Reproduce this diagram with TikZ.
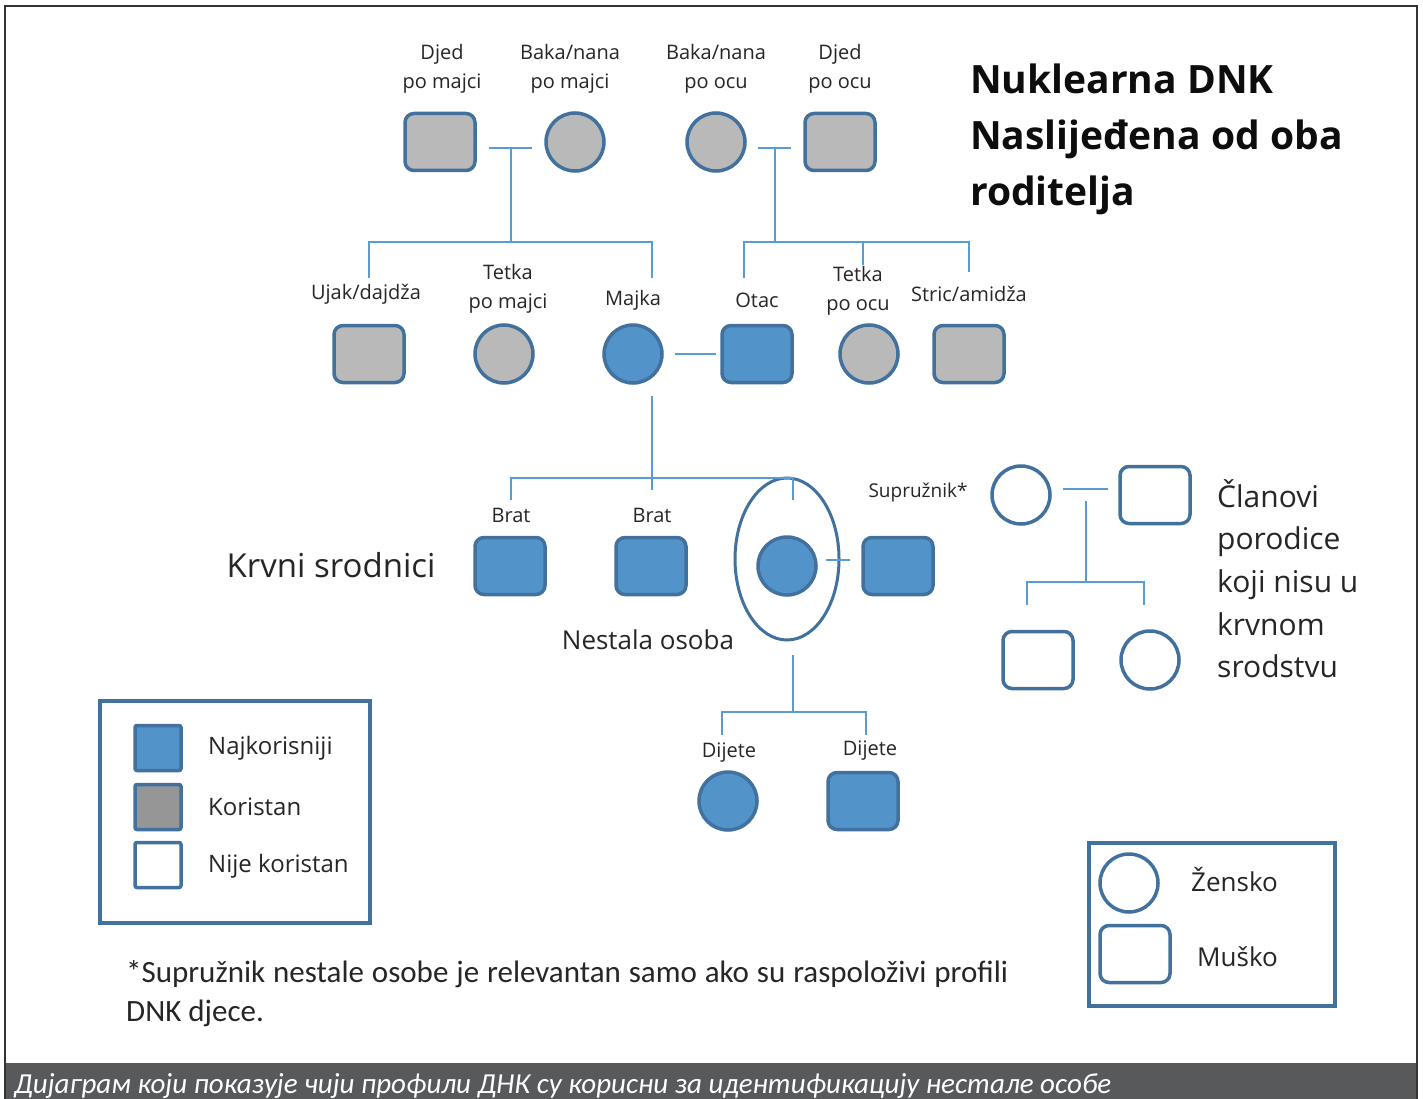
\documentclass[tikz,border=0pt]{standalone}
\usepackage{fontspec}
\setmainfont{Open Sans}
\newfontfamily\carfont{Carlito}
\usetikzlibrary{shapes.geometric}
\definecolor{bfill}{HTML}{5294C9}
\definecolor{bord}{HTML}{41719C}
\definecolor{gfill}{HTML}{B9B9B9}
\definecolor{lgfill}{HTML}{969696}
\definecolor{lnk}{HTML}{5B9BD5}
\definecolor{txt}{HTML}{262626}
\definecolor{capbg}{HTML}{58595B}
\tikzset{
  sq/.style={rectangle, rounded corners=9pt, minimum width=70pt, minimum height=57pt, inner sep=0pt, draw=bord, line width=3.5pt},
  ci/.style={circle, minimum size=58pt, inner sep=0pt, draw=bord, line width=3.5pt},
  blu/.style={fill=bfill},
  gry/.style={fill=gfill},
  wht/.style={fill=white},
  lab/.style={font=\fontsize{20}{29}\selectfont, text=txt, align=center, inner sep=0pt},
  conn/.style={draw=lnk, line width=1.5pt},
  legbox/.style={draw=bord, line width=3.5pt, fill=none, inner sep=0pt},
  legsq/.style={rectangle, rounded corners=2pt, minimum width=46pt, minimum height=45pt, inner sep=0pt, draw=bord, line width=3.5pt},
  legtxt/.style={font=\fontsize{24}{28}\selectfont, text=txt, anchor=west, inner sep=0pt}
}
\begin{document}
\begin{tikzpicture}[x=1pt,y=-1pt]
\useasboundingbox (0,0) rectangle (1423,1099);
\fill[white] (0,0) rectangle (1423,1099);
% frame and caption bar
\fill[capbg] (5,1063) rectangle (1417,1099);
\draw[line width=2pt, draw=black!80] (5,1099) -- (5,6) -- (1417,6) -- (1417,1099);
\node[anchor=west, inner sep=0pt, text=white!92, font=\carfont\itshape\fontsize{29}{30}\selectfont] (cap) at (14,1086) {Дијаграм који показује чији профили ДНК су корисни за идентификацију нестале особе};

% title
\node[anchor=north west, inner sep=0pt, align=left, text=black!95, font=\bfseries\fontsize{39}{56}\selectfont] (title) at (970,64) {Nuklearna DNK\\Naslijeđena od oba\\roditelja};

% grandparents
\node[sq, gry] (dm) at (440,142) {};
\node[ci, gry] (bm) at (575,142) {};
\node[ci, gry] (bo) at (716,142) {};
\node[sq, gry] (do) at (840,142) {};
\node[lab] (ldm) at (442,69) {Djed\\po majci};
\node[lab] (lbm) at (570,69) {Baka/nana\\po majci};
\node[lab] (lbo) at (716,69) {Baka/nana\\po ocu};
\node[lab] (ldo) at (840,69) {Djed\\po ocu};

% parents generation
\node[sq, gry] (uj) at (369,354) {};
\node[ci, gry] (tm) at (504,354) {};
\node[ci, blu] (mj) at (633,354) {};
\node[sq, blu] (ot) at (757,354) {};
\node[ci, gry] (to) at (869,354) {};
\node[sq, gry] (st) at (969,354) {};
\node[lab] (luj) at (366,294) {Ujak/dajdža};
\node[lab] (ltm) at (508,289) {Tetka\\po majci};
\node[lab] (lmj) at (633,300) {Majka};
\node[lab] (lot) at (757,300) {Otac};
\node[lab] (lto) at (858,291) {Tetka\\po ocu};
\node[lab] (lst) at (969,294) {Stric/amidža};

% missing person generation
\node[sq, blu] (b1) at (510,566) {};
\node[sq, blu] (b2) at (651,566) {};
\node[ellipse, draw=bord, line width=3pt, minimum width=104pt, minimum height=162pt, inner sep=0pt] (np) at (787,559) {};
\node[ci, blu] (mp) at (787,566) {};
\node[sq, blu] (sp) at (898,566) {};
\node[lab] (lb1) at (511,515) {Brat};
\node[lab] (lb2) at (652,515) {Brat};
\node[lab, font=\fontsize{19}{22}\selectfont] (lsp) at (918,493) {Supružnik*};
\node[lab, font=\fontsize{33}{36}\selectfont] (lkr) at (331,565) {Krvni srodnici};
\node[lab, font=\fontsize{26}{30}\selectfont] (lnp) at (648,640) {Nestala osoba};

% children
\node[ci, blu] (c1) at (728,801) {};
\node[sq, blu] (c2) at (863,801) {};
\node[lab] (lc1) at (729,753) {Dijete};
\node[lab] (lc2) at (870,751) {Dijete};

% non-blood relatives
\node[ci, wht] (rf) at (1021,495) {};
\node[sq, wht] (rm) at (1155,495) {};
\node[sq, wht] (rs) at (1038,660) {};
\node[ci, wht] (rd) at (1150,660) {};
\node[anchor=north west, inner sep=0pt, align=left, text=txt, font=\fontsize{30}{42.7}\selectfont] (lnb) at (1217,479) {Članovi\\porodice\\koji nisu u\\krvnom\\srodstvu};

% coordinates for connectors
\coordinate (j1) at (511,148);
\coordinate (hL) at (511,242);
\coordinate (dUj) at (369,278);
\coordinate (dMj) at (652,278);
\coordinate (j2) at (775,148);
\coordinate (hR) at (775,242);
\coordinate (dOt) at (744,278);
\coordinate (dTo) at (863,265);
\coordinate (dSt) at (969,272);
\coordinate (v3) at (652,396);
\coordinate (h3) at (652,478);
\coordinate (v3b) at (652,490);
\coordinate (dB1) at (511,500);
\coordinate (dNp) at (793,500);
\coordinate (v4) at (793,655);
\coordinate (h4) at (793,712);
\coordinate (dC1) at (722,735);
\coordinate (dC2) at (866,735);
\coordinate (v5) at (1086,501);
\coordinate (h5) at (1086,582);
\coordinate (dRs) at (1027,605);
\coordinate (dRd) at (1144,605);

% connectors (yshift is in page pt: negative = lower)
\draw[conn] ([xshift=12pt, yshift=-6pt]dm.east) -- ([xshift=-12pt, yshift=-6pt]bm.west);
\draw[conn] (j1) -- (hL);
\draw[conn] (dUj) |- (hL) -| (dMj);
\draw[conn] ([xshift=11pt, yshift=-6pt]bo.east) -- ([xshift=-12pt, yshift=-6pt]do.west);
\draw[conn] (j2) -- (hR);
\draw[conn] (dOt) |- (hR) -| (dSt);
\draw[conn] (dTo) -- (dTo |- hR);
\draw[conn] ([xshift=11pt]mj.east) -- ([xshift=-4pt]ot.west);
\draw[conn] (v3) -- (v3b);
\draw[conn] (dB1) |- (h3) -| (dNp);
\draw[conn] ([xshift=-35pt, yshift=6pt]sp.west) -- ([xshift=-11pt, yshift=6pt]sp.west);
\draw[conn] (v4) -- (h4);
\draw[conn] (dC1) |- (h4) -| (dC2);
\draw[conn] ([xshift=11pt, yshift=6pt]rf.east) -- ([xshift=-10pt, yshift=6pt]rm.west);
\draw[conn] (v5) -- (h5);
\draw[conn] (dRs) |- (h5) -| (dRd);

% legend 1
\node[legbox, minimum width=270pt, minimum height=222pt] (leg1) at (235,812) {};
\node[legsq, blu] (k1) at (158,748) {};
\node[legsq, fill=lgfill] (k2) at (158,807) {};
\node[legsq, wht] (k3) at (158,865) {};
\node[legtxt] (t1) at (208,748) {Najkorisniji};
\node[legtxt] (t2) at (208,807) {Koristan};
\node[legtxt] (t3) at (208,866) {Nije koristan};

% legend 2
\node[legbox, minimum width=246pt, minimum height=163pt] (leg2) at (1212,924.5) {};
\node[ci, wht] (kf) at (1129,883) {};
\node[sq, wht] (km) at (1135,954) {};
\node[legtxt, font=\fontsize{26}{30}\selectfont] (tf) at (1191,880) {Žensko};
\node[legtxt, font=\fontsize{26}{30}\selectfont] (tm2) at (1197,957) {Muško};

% footnote
\node[anchor=north west, inner sep=0pt, align=left, text=txt, font=\carfont\fontsize{31}{39}\selectfont] (fn) at (126,960) {\makebox[882pt][s]{*Supružnik nestale osobe je relevantan samo ako su raspoloživi profili}\\DNK djece.};
\end{tikzpicture}
\end{document}
